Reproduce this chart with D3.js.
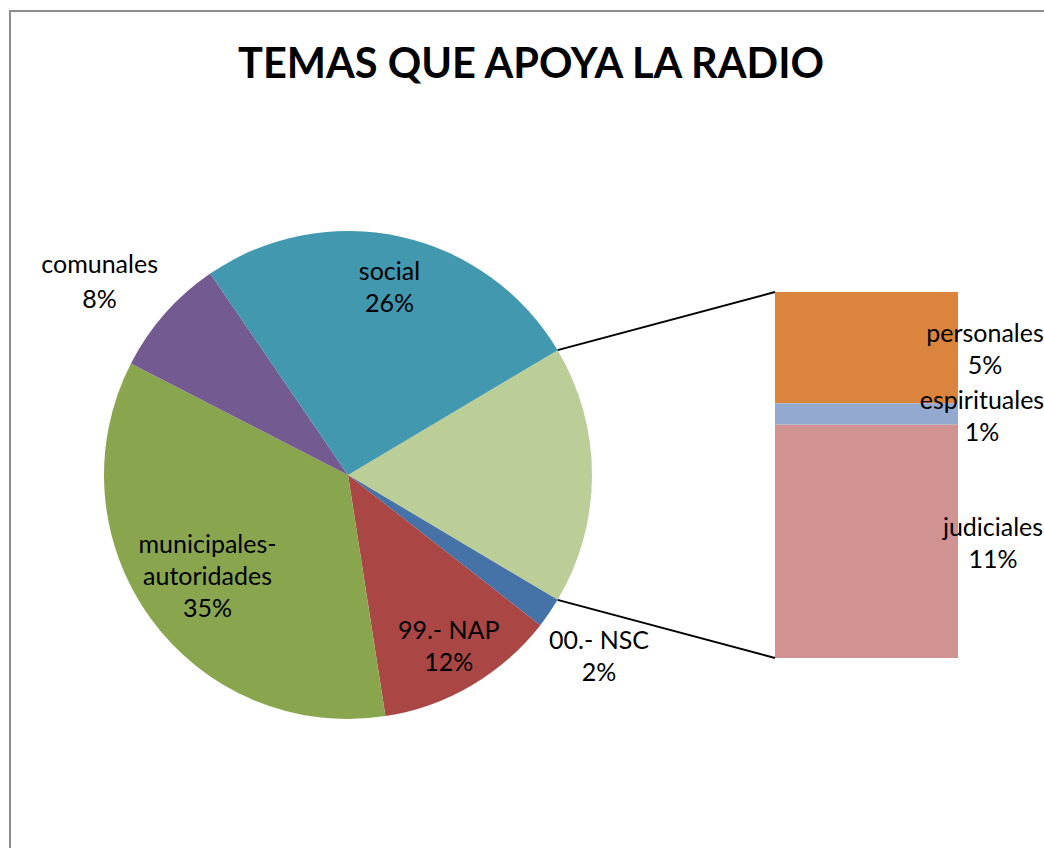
<!DOCTYPE html>
<html>
<head>
<meta charset="utf-8">
<script src="https://cdn.jsdelivr.net/npm/d3@7"></script>
<style>
  body { margin: 0; background: #fff; }
  svg { display: block; }
  text { font-family: Lato, "Open Sans", sans-serif; fill: #000; }
</style>
</head>
<body>
<div id="chart-area"></div>
<script>
// pie slices, clockwise starting with the "other" slice (broken out into the bar)
const pieLabels = ['otros', '00.- NSC', '99.- NAP', 'municipales-autoridades', 'comunales', 'social'];
const pieValues = [null, 2.0, 12.0, 35.0, 7.9, 26.0];
const pieColors = ['#BBCE97', '#4572A7', '#AA4644', '#89A54E', '#735A90', '#4198AF'];

// second plot (bar), top to bottom
const barLabels = ['personales', 'espirituales', 'judiciales'];
const barValues = [5.2, 1.0, 10.9];
const barColors = ['#DB843D', '#93A9CF', '#D19392'];

const width = 1044;
const height = 848;
const cx = 348, cy = 475, radius = 244;
const bar = { x: 775, width: 183, top: 292, bottom: 658 };

const otherTotal = d3.sum(barValues);
const pieData = pieLabels.map((label, i) => ({
    label: label,
    value: i === 0 ? otherTotal : pieValues[i],
    color: pieColors[i]
}));
const total = d3.sum(pieData, d => d.value);

const svg = d3.select('#chart-area')
    .append('svg')
    .attr('width', width)
    .attr('height', height);

// outer frame
svg.append('rect')
    .attr('x', 10)
    .attr('y', 11)
    .attr('width', 1100)
    .attr('height', 900)
    .attr('fill', 'none')
    .attr('stroke', '#8c8c8c')
    .attr('stroke-width', 2);

// title
const title = svg.append('text')
    .attr('x', 531)
    .attr('y', 78)
    .attr('text-anchor', 'middle')
    .attr('font-weight', 'bold')
    .attr('font-size', 44)
    .text('TEMAS QUE APOYA LA RADIO');
const tw = title.node().getComputedTextLength();
title.attr('font-size', 44 * 586 / tw);

// pie: keep the "other" slice centred on 3 o'clock
const otherSpan = otherTotal / total * 2 * Math.PI;
const start = Math.PI / 2 - otherSpan / 2;
const pie = d3.pie()
    .sort(null)
    .value(d => d.value)
    .startAngle(start)
    .endAngle(start + 2 * Math.PI);
const arcs = pie(pieData);

const arc = d3.arc().innerRadius(0).outerRadius(radius);
const pieGroup = svg.append('g')
    .attr('transform', `translate(${cx}, ${cy})`);

pieGroup.selectAll('path')
    .data(arcs)
    .enter()
    .append('path')
    .attr('d', arc)
    .attr('fill', d => d.data.color);

// label distance from centre (share of radius) and small angle shift (degrees)
const labelRadius = {
    '00.- NSC': 1.27,
    '99.- NAP': 0.815,
    'municipales-autoridades': 0.71,
    'comunales': 1.29,
    'social': 0.79
};
const labelShift = { '00.- NSC': 1.5, 'comunales': -3.5 };
const fmt = v => Math.round(v) + '%';
const lineH = 32;
const fontSize = 25;

function multiline(g, x, y, lines, lh) {
    const h = lh || lineH;
    const t = g.append('text')
        .attr('text-anchor', 'middle')
        .attr('font-size', fontSize);
    const y0 = y - (lines.length - 1) * h / 2 + fontSize * 0.35;
    lines.forEach((line, i) => {
        t.append('tspan')
            .attr('x', x)
            .attr('y', y0 + i * h)
            .text(line);
    });
}

arcs.slice(1).forEach(a => {
    const name = a.data.label;
    const mid = (a.startAngle + a.endAngle) / 2 + (labelShift[name] || 0) * Math.PI / 180;
    const r = radius * labelRadius[name];
    const x = Math.sin(mid) * r;
    const y = -Math.cos(mid) * r;
    let lines = [name, fmt(a.data.value / total * 100)];
    if (name === 'municipales-autoridades') {
        lines = ['municipales-', 'autoridades', fmt(a.data.value / total * 100)];
    }
    multiline(pieGroup, x, y, lines, name === 'comunales' ? 35 : lineH);
});

// bar of the broken-out slice
const yBar = d3.scaleLinear()
    .domain([0, otherTotal])
    .range([bar.top, bar.bottom]);
const stacked = barValues.map((v, i) => ({
    label: barLabels[i],
    value: v,
    color: barColors[i],
    y0: d3.sum(barValues.slice(0, i)),
    y1: d3.sum(barValues.slice(0, i + 1))
}));

svg.selectAll('rect.seg')
    .data(stacked)
    .enter()
    .append('rect')
    .attr('class', 'seg')
    .attr('x', bar.x)
    .attr('width', bar.width)
    .attr('y', d => yBar(d.y0))
    .attr('height', d => yBar(d.y1) - yBar(d.y0))
    .attr('fill', d => d.color);

// bar labels sit a bit off the right edge of the bar
const barLabelX = { personales: 985, espirituales: 982, judiciales: 993 };
stacked.forEach(d => {
    const y = (yBar(d.y0) + yBar(d.y1)) / 2 + 2;
    multiline(svg, barLabelX[d.label], y, [d.label, fmt(d.value / total * 100)]);
});

// connector lines from the other slice to the bar
const other = arcs[0];
const p1 = [cx + Math.sin(other.startAngle) * radius, cy - Math.cos(other.startAngle) * radius];
const p2 = [cx + Math.sin(other.endAngle) * radius, cy - Math.cos(other.endAngle) * radius];
svg.append('line')
    .attr('x1', p1[0]).attr('y1', p1[1])
    .attr('x2', bar.x).attr('y2', bar.top)
    .attr('stroke', '#000').attr('stroke-width', 2);
svg.append('line')
    .attr('x1', p2[0]).attr('y1', p2[1])
    .attr('x2', bar.x).attr('y2', bar.bottom)
    .attr('stroke', '#000').attr('stroke-width', 2);
</script>
</body>
</html>
